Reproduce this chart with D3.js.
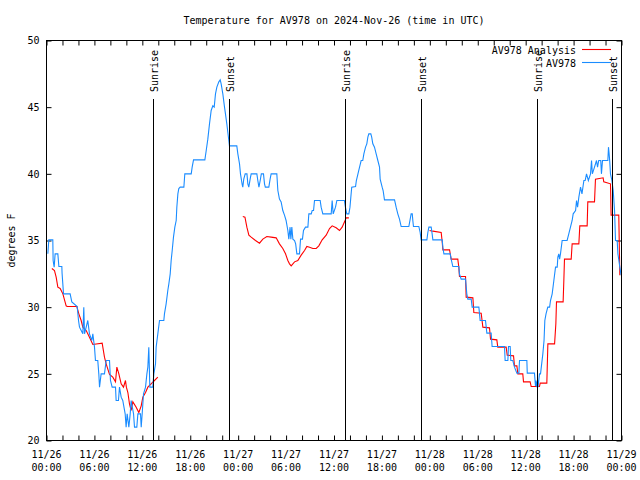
<!DOCTYPE html>
<html><head><meta charset="utf-8">
<script src="https://cdn.jsdelivr.net/npm/d3@7"></script>
<style>
body{margin:0;background:#fff}
svg text{font-family:"DejaVu Sans Mono",monospace;font-size:10px;fill:#000}
</style></head><body>
<svg id="c" width="640" height="480"></svg>
<script>
const titleText = "Temperature for AV978 on 2024-Nov-26 (time in UTC)";
const yLabel = "degrees F";
const seriesNames = ["AV978 Analysis", "AV978"];
const yTicks = [20, 25, 30, 35, 40, 45, 50];
const sunriseHours = [13.36, 37.4, 61.36];
const sunsetHours = [22.88, 46.93, 70.87];

// AV978 observations: hours after 2024-11-26 00:00 UTC, degrees F
const blueHours = [0.17,0.29,0.79,0.83,0.96,1.08,1.42,1.55,1.92,1.95,2.13,2.96,3.17,3.84,4.01,4.13,4.55,4.67,4.76,4.97,5.17,5.38,5.68,5.8,6.01,6.13,6.42,6.55,6.64,6.84,7.26,7.47,7.89,8.01,8.22,8.64,8.72,9.01,9.14,9.35,9.55,9.85,9.97,10.1,10.31,10.48,10.6,10.9,11.02,11.31,11.44,11.77,11.86,11.98,12.15,12.4,12.57,12.69,12.81,12.94,13.31,13.44,13.65,13.73,13.94,14.15,14.69,14.77,14.98,15.19,15.32,15.49,15.61,15.74,15.9,16.07,16.24,16.32,16.45,16.57,16.74,17.2,17.32,18.12,18.24,18.41,19.83,20.0,20.2,20.41,20.62,20.83,21.0,21.16,21.33,21.58,21.75,21.87,22.08,22.29,22.41,22.58,22.71,22.83,22.91,23.83,23.96,24.17,24.29,24.5,24.58,24.7,24.88,25.1,25.21,25.33,25.5,25.63,26.34,26.46,26.6,26.76,26.9,27.17,27.3,27.4,27.84,28.0,28.13,28.84,28.97,29.17,29.38,29.59,29.8,30.0,30.22,30.34,30.5,30.6,30.72,30.85,31.06,31.2,31.35,31.68,31.81,32.05,32.18,32.43,32.73,32.85,33.15,33.27,33.44,33.56,34.27,34.39,34.6,35.65,35.77,35.9,36.19,36.36,37.3,37.43,37.6,37.86,38.0,38.1,38.22,38.7,38.8,39.0,39.2,39.4,39.6,39.74,39.95,40.11,40.24,40.36,40.61,40.72,40.86,41.07,41.28,41.49,41.7,41.78,42.03,42.15,42.32,43.58,43.78,43.99,44.2,44.41,45.37,45.54,45.66,45.8,45.87,45.95,46.62,46.79,46.91,47.63,47.75,47.88,48.17,48.29,48.38,49.55,49.63,49.76,50.55,50.67,50.88,51.63,51.71,51.92,52.47,52.63,52.76,53.18,53.3,54.14,54.3,54.97,55.14,55.68,55.8,57.35,57.43,57.77,57.85,58.06,58.14,58.39,58.6,58.9,59.15,59.23,60.15,60.2,61.1,61.23,61.3,61.4,61.5,61.55,61.73,61.86,62.15,62.3,62.4,62.55,62.77,63.0,63.11,63.32,63.53,63.74,63.95,64.03,64.15,64.25,64.36,64.57,65.19,65.4,65.61,65.82,65.95,66.25,66.37,66.5,66.66,66.87,67.05,67.29,67.45,67.62,67.85,68.12,68.25,68.35,68.62,68.87,69.0,69.15,69.4,69.49,69.62,70.29,70.37,70.45,70.52,70.62,70.8,70.96,71.13,71.25,71.46,71.55,71.65,71.79,71.95];
const blueTemps = [34.0,35.05,35.05,33.5,33.0,34.0,34.0,33.05,33.05,32.55,31.0,31.0,30.4,30.05,29.0,28.5,28.0,30.0,28.0,28.5,29.0,28.0,27.5,28.0,27.0,26.0,26.0,25.0,24.0,25.0,25.0,26.0,26.0,24.5,24.0,24.0,23.0,23.0,24.0,23.25,23.0,22.0,21.0,22.0,21.0,22.0,23.0,22.0,21.0,21.0,22.0,22.0,21.0,22.0,23.5,24.0,25.0,25.5,27.0,24.0,24.0,25.0,25.75,27.0,28.0,29.0,29.0,29.5,30.25,31.25,31.75,32.5,33.5,34.25,35.25,36.0,36.5,37.5,38.5,38.9,39.0,39.0,40.0,40.0,40.5,41.05,41.05,41.75,42.6,43.75,44.75,45.1,45.0,46.0,46.5,46.9,47.05,46.75,46.0,45.0,44.5,43.75,43.1,42.5,42.1,42.1,41.5,40.75,40.0,39.2,39.0,39.6,40.0,40.0,39.25,39.0,39.6,40.0,40.0,39.5,39.0,39.5,40.0,40.0,39.25,39.0,39.0,39.6,40.0,40.0,38.75,38.1,37.9,37.25,36.9,36.5,35.75,35.1,36.0,35.1,36.0,35.1,35.0,34.75,34.0,34.0,35.1,35.1,35.75,36.0,36.0,37.0,37.0,37.25,37.25,38.0,38.0,37.5,37.0,37.0,38.0,37.0,37.5,38.0,38.0,37.5,37.0,37.0,37.5,38.2,39.0,39.05,39.5,40.0,40.5,41.0,41.0,41.5,42.0,42.25,42.75,43.0,43.0,42.75,42.25,42.0,41.5,41.0,40.5,39.6,39.0,38.75,38.05,38.05,37.5,37.0,36.6,36.05,36.05,36.6,37.0,37.0,36.5,36.05,36.05,35.6,35.05,35.05,35.6,36.0,36.0,35.5,35.05,35.05,34.5,34.0,34.0,33.6,33.05,33.05,32.5,32.1,32.1,31.0,30.6,30.6,30.0,30.0,29.0,29.0,28.05,28.05,27.05,27.05,26.0,26.0,27.05,27.05,26.0,26.0,25.5,25.05,25.05,26.0,26.0,25.05,25.05,24.1,24.5,24.0,24.5,24.0,25.0,25.0,26.5,27.5,29.0,29.5,30.0,30.0,30.5,31.0,32.0,33.0,33.0,33.75,34.0,33.6,34.0,35.0,35.0,35.5,36.0,36.5,37.0,37.25,38.0,37.5,38.25,39.0,38.5,39.5,39.5,40.0,39.5,40.0,41.0,40.0,40.5,41.0,40.5,41.0,41.0,40.0,41.0,41.0,42.0,41.5,41.0,40.0,39.5,38.75,37.25,35.0,35.0,34.0,33.6,33.0,32.4];

// AV978 Analysis: null marks a gap in the series
const redHours = [0.67,1.0,1.21,1.42,1.71,2.05,2.46,2.59,3.8,4.05,4.34,4.55,4.97,5.38,5.8,6.97,7.26,7.47,7.89,8.3,8.64,8.81,9.06,9.35,9.64,9.89,10.0,10.19,10.39,10.6,10.81,11.23,11.56,11.86,12.06,12.4,12.69,13.1,13.52,13.94,
  19.0,
  24.58,24.85,25.09,25.34,25.63,26.17,26.67,27.09,27.59,28.13,28.76,29.17,29.59,29.93,30.22,30.43,30.64,31.06,31.47,31.89,32.31,32.6,32.94,33.35,33.77,34.1,34.52,35.02,35.44,35.77,36.27,36.69,37.02,37.32,37.52,37.86,
  43.0,
  47.96,48.38,49.42,49.55,49.63,50.47,50.67,51.5,51.63,51.71,52.47,52.55,53.39,53.51,54.43,54.64,55.47,55.6,56.39,56.51,57.56,57.69,58.48,58.6,58.9,59.02,59.64,59.73,60.56,60.69,61.73,61.82,62.65,62.78,63.62,63.78,63.86,64.69,64.78,64.86,65.7,65.82,66.66,66.78,67.7,67.78,68.62,68.74,69.7,69.78,70.62,70.7,71.66,71.79];
const redTemps = [32.9,32.75,32.25,31.5,31.4,31.0,30.1,30.05,30.05,29.5,29.0,28.5,28.25,27.75,27.2,27.3,26.25,25.75,24.95,24.75,24.4,25.5,25.0,24.25,24.0,24.5,24.0,23.6,22.75,22.25,22.9,22.5,22.1,22.6,23.25,23.6,24.0,24.25,24.5,24.75,
  null,
  36.8,36.75,36.0,35.4,35.25,35.0,34.8,35.1,35.3,35.25,35.2,34.75,34.4,34.0,33.5,33.25,33.1,33.4,33.5,33.9,34.25,34.55,34.5,34.4,34.4,34.6,35.05,35.4,35.9,36.1,35.95,35.75,36.0,36.4,36.7,36.7,
  null,
  35.75,35.7,35.6,34.9,34.3,34.3,33.6,33.6,33.0,32.3,32.3,30.75,30.7,29.6,29.55,28.5,28.45,27.6,27.55,27.0,27.0,26.4,26.35,25.6,25.6,25.0,25.0,24.4,24.4,24.05,24.05,24.3,24.3,27.25,27.25,28.75,30.4,30.4,32.0,33.6,33.6,34.75,34.75,36.1,36.1,37.9,37.9,39.6,39.7,39.4,39.25,36.9,36.9,32.4];

const base = Date.UTC(2024, 10, 26);
const toDate = h => new Date(base + h * 3600000);
const L = 46.5, R = 621.5, T = 40.5, B = 440.5;

const x = d3.scaleUtc().domain([toDate(0), toDate(72)]).range([L, R]);
const y = d3.scaleLinear().domain([20, 50]).range([B, T]);

const svg = d3.select("#c");

const xTickVals = d3.utcHour.every(2).range(toDate(0), toDate(72.01));
const xLabelVals = d3.utcHour.every(6).range(toDate(0), toDate(72.01));

const noDomain = g => g.select(".domain").remove();

svg.append("g").attr("transform", `translate(0,${B})`)
  .call(d3.axisBottom(x).tickValues(xTickVals).tickSizeInner(-5).tickSizeOuter(0).tickFormat(""))
  .call(noDomain);
svg.append("g").attr("transform", `translate(0,${T})`)
  .call(d3.axisTop(x).tickValues(xTickVals).tickSizeInner(-5).tickSizeOuter(0).tickFormat(""))
  .call(noDomain);
svg.append("g").attr("transform", `translate(${L},0)`)
  .call(d3.axisLeft(y).tickValues(yTicks).tickSizeInner(-5).tickSizeOuter(0).tickPadding(7).tickFormat(d3.format("d")))
  .call(noDomain);
svg.append("g").attr("transform", `translate(${R},0)`)
  .call(d3.axisRight(y).tickValues(yTicks).tickSizeInner(-5).tickSizeOuter(0).tickFormat(""))
  .call(noDomain);
svg.selectAll(".tick line").attr("stroke", "#000");

// two-line x labels
const xl = svg.append("g").selectAll("text").data(xLabelVals).join("text")
  .attr("text-anchor", "middle").attr("y", 457.5);
xl.append("tspan").attr("x", d => x(d)).text(d3.utcFormat("%m/%d"));
xl.append("tspan").attr("x", d => x(d)).attr("dy", 13).text(d3.utcFormat("%H:%M"));

// clip
svg.append("clipPath").attr("id", "clip").append("rect")
  .attr("x", L).attr("y", T).attr("width", R - L).attr("height", B - T);

const redData = redHours.map((h, i) => ({d: toDate(h), t: redTemps[i]}));
const blueData = blueHours.map((h, i) => ({d: toDate(h), t: blueTemps[i]}));
const line = d3.line().defined(p => p.t != null).x(p => x(p.d)).y(p => y(p.t));

const plot = svg.append("g").attr("clip-path", "url(#clip)");
plot.append("path").datum(redData).attr("d", line)
  .attr("fill", "none").attr("stroke", "#ff0000").attr("stroke-width", 1.1);
plot.append("path").datum(blueData).attr("d", line)
  .attr("fill", "none").attr("stroke", "#1a8cff").attr("stroke-width", 1.1);

// sunrise / sunset markers
const events = sunriseHours.map(h => ({h, name: "Sunrise"}))
  .concat(sunsetHours.map(h => ({h, name: "Sunset"})));
const ev = svg.append("g").selectAll("g").data(events).join("g");
ev.append("line")
  .attr("x1", e => Math.round(x(toDate(e.h))) + 0.5).attr("x2", e => Math.round(x(toDate(e.h))) + 0.5)
  .attr("y1", 99).attr("y2", B).attr("stroke", "#000");
ev.append("text")
  .attr("transform", e => `translate(${Math.round(x(toDate(e.h))) + 4.5},92) rotate(-90)`)
  .attr("text-anchor", "start").text(e => e.name);

// frame
svg.append("rect").attr("x", L).attr("y", T).attr("width", R - L).attr("height", B - T)
  .attr("fill", "none").attr("stroke", "#000");

// title and y label
svg.append("text").attr("x", (L + R) / 2).attr("y", 23.5).attr("text-anchor", "middle").text(titleText);
svg.append("text").attr("transform", `translate(15,${(T + B) / 2}) rotate(-90)`)
  .attr("text-anchor", "middle").text(yLabel);

// legend
const legColors = ["#ff0000", "#1a8cff"];
const leg = svg.append("g").selectAll("g").data(seriesNames).join("g")
  .attr("transform", (d, i) => `translate(0,${49.5 + i * 13})`);
leg.append("text").attr("x", 576).attr("y", 4).attr("text-anchor", "end").text(d => d);
leg.append("line").attr("x1", 582).attr("x2", 611).attr("y1", 0).attr("y2", 0)
  .attr("stroke", (d, i) => legColors[i]).attr("stroke-width", 1.1);
</script>
</body></html>
